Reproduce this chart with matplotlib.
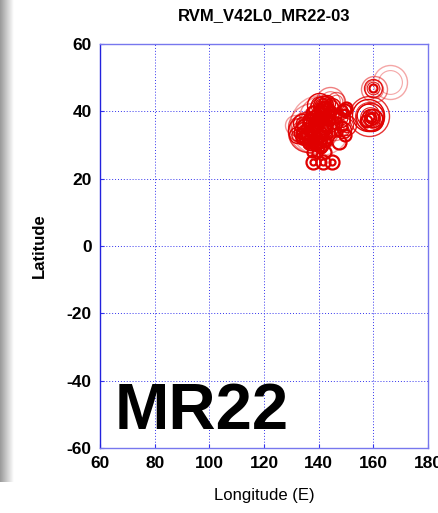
import numpy as np
import matplotlib
matplotlib.use("Agg")
import matplotlib.pyplot as plt

plt.rcParams['font.family'] = ['Liberation Sans', 'DejaVu Sans']

# event catalogue: longitude, latitude, circle radius (px), opacity
lon = [140.5, 138.0, 136.0, 141.0, 142.0, 141.5, 140.0, 143.0, 139.0, 137.5,
       135.0, 134.5, 133.0, 132.0, 137.0, 139.5, 141.0, 142.5, 140.0, 138.5,
       136.5, 135.5, 134.0, 137.0, 139.0, 140.5, 142.0, 143.5, 141.0, 138.0,
       136.0, 134.0, 138.0, 143.0, 149.5, 137.5, 141.6, 143.0, 149.0, 150.0,
       148.0, 149.6, 147.5, 146.0, 145.0, 158.8, 158.8, 158.5, 159.0, 160.0,
       160.0, 160.2, 166.0, 138.0, 141.6, 145.0, 138.0, 141.6, 145.0, 139.5,
       142.5, 140.0, 131.5, 144.0, 146.5,
       141.6, 141.0, 142.3, 140.5, 142.0, 136.5, 135.5, 137.0, 138.0, 139.5,
       140.0, 141.5, 142.5, 143.0, 136.0, 137.5, 139.0, 140.5, 134.5, 133.5,
       135.0, 136.5, 138.5, 141.0, 142.0, 143.5, 144.0, 148.5, 149.5, 150.0,
       148.5, 147.0, 146.5, 145.5, 139.0, 141.0, 143.0, 144.5, 140.0, 142.0,
       158.8, 159.5, 158.0, 160.0, 157.5]
lat = [36.0, 35.0, 34.0, 38.0, 40.0, 41.5, 42.0, 42.5, 36.0, 36.5,
       35.5, 34.0, 34.5, 33.0, 33.0, 38.5, 36.5, 37.0, 34.0, 38.0,
       37.5, 32.5, 36.5, 31.0, 32.0, 32.0, 34.5, 39.0, 30.0, 30.5,
       30.5, 32.0, 39.5, 36.0, 40.4, 28.0, 41.3, 40.5, 34.5, 36.0,
       38.0, 33.0, 31.0, 35.0, 41.5, 38.3, 38.3, 38.5, 38.0, 47.0,
       47.0, 46.5, 48.7, 25.0, 25.0, 25.0, 25.0, 25.0, 25.0, 27.5,
       28.0, 29.5, 36.0, 43.0, 43.0,
       41.3, 40.5, 41.8, 40.0, 39.5, 36.5, 35.0, 37.5, 37.0, 37.5,
       38.0, 37.0, 36.0, 35.0, 33.5, 34.5, 33.0, 31.0, 35.5, 33.5,
       32.0, 31.5, 31.0, 29.0, 31.5, 33.0, 37.5, 40.5, 39.5, 41.0,
       35.5, 34.0, 36.5, 38.5, 30.0, 33.5, 31.0, 40.0, 39.0, 38.0,
       38.3, 37.5, 39.0, 38.0, 37.0]
rad = [30, 25, 20, 22, 15, 10, 12, 8, 6, 9,
       14, 10, 12, 8, 9, 7, 11, 9, 10, 8,
       6, 7, 9, 8, 6, 7, 8, 6, 7, 6,
       5, 6, 7, 12, 6, 5, 9, 7, 8, 10,
       9, 6, 7, 12, 8, 8, 14, 20, 5, 4,
       9, 13, 17, 7, 7, 7, 3, 3, 3, 5,
       6, 5, 10, 14, 9,
       5, 6, 4, 5, 7, 6, 5, 7, 4, 6,
       5, 4, 6, 5, 7, 6, 5, 6, 7, 5,
       6, 5, 7, 5, 6, 4, 5, 5, 4, 6,
       5, 4, 6, 7, 5, 6, 4, 5, 4, 5,
       4, 11, 16, 9, 6]
alp = [0.35, 0.45, 0.8, 0.45, 0.9, 1.0, 1.0, 1.0, 1.0, 1.0,
       0.5, 1.0, 0.7, 1.0, 1.0, 1.0, 1.0, 1.0, 1.0, 1.0,
       1.0, 1.0, 1.0, 1.0, 1.0, 1.0, 1.0, 1.0, 1.0, 1.0,
       1.0, 1.0, 1.0, 0.9, 1.0, 1.0, 1.0, 1.0, 1.0, 0.9,
       1.0, 1.0, 1.0, 0.5, 1.0, 1.0, 0.9, 0.8, 1.0, 1.0,
       0.9, 0.5, 0.35, 1.0, 1.0, 1.0, 1.0, 1.0, 1.0, 1.0,
       1.0, 1.0, 0.4, 0.5, 0.6] + [1.0] * 45 + [1.0, 0.9, 0.8, 1.0, 1.0]

xticks = [60, 80, 100, 120, 140, 160, 180]
yticks = [-60, -40, -20, 0, 20, 40, 60]

fig = plt.figure(figsize=(4.39, 5.13), dpi=100)

# grey drop shadow on the left edge
sh = fig.add_axes([0, 0.06, 0.03, 0.94])
grad = np.linspace(0.6, 1.0, 64)[None, :]
sh.imshow(grad, aspect="auto", cmap="gray", vmin=0, vmax=1, extent=[0, 1, 0, 1])
sh.axis("off")

ax = fig.add_axes([100 / 439, 1 - 448 / 513, 328 / 439, 404 / 513])
ax.set_xlim(60, 180)
ax.set_ylim(-60, 60)
ax.set_xticks(xticks)
ax.set_yticks(yticks)
ax.set_xticklabels([str(t) for t in xticks], fontsize=12.5, fontweight="bold")
ax.set_yticklabels([str(t) for t in yticks], fontsize=12.5, fontweight="bold")
ax.tick_params(direction="in", length=3, color="#3333ee", pad=6)
ax.grid(True, color="#3333ee", linestyle=(0, (1, 2)), linewidth=0.7)
for s in ax.spines.values():
    s.set_color("#7777ee")
    s.set_linewidth(1.0)
ax.spines["left"].set_color("#2222dd")

for x, y, r, a in zip(lon, lat, rad, alp):
    ms = 2 * r * 0.72
    lw = 1.6 if r <= 7 else 1.0
    ax.plot([x], [y], "o", ms=ms, mfc="none", mec="#e00000", mew=lw, alpha=a)
    if r >= 8:
        ax.plot([x], [y], "o", ms=ms * 0.7, mfc="none", mec="#e00000", mew=0.8, alpha=a)

ax.set_title("RVM_V42L0_MR22-03", fontsize=12, fontweight="bold", pad=17)
ax.set_xlabel("Longitude (E)", fontsize=12, labelpad=12)
ax.set_ylabel("Latitude", fontsize=12, fontweight="bold", labelpad=14)
ax.text(0.045, 0.015, "MR22", transform=ax.transAxes, fontsize=47, fontweight="bold",
        color="black", ha="left", va="bottom")

fig.savefig("out.png", dpi=100)
